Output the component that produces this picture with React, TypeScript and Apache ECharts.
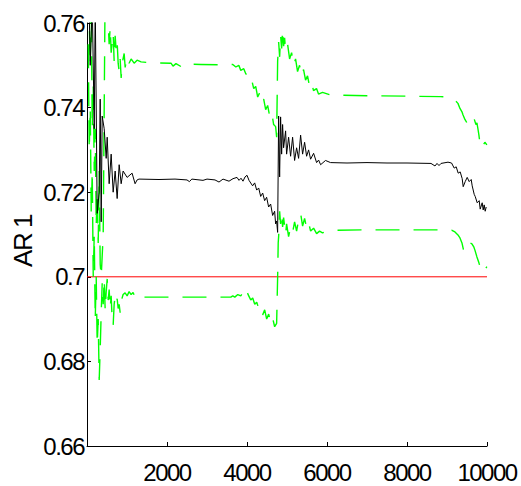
import React, { useEffect, useRef } from "react";
import * as echarts from "echarts";

// Tick labels
const xTicks = [2000, 4000, 6000, 8000, 10000];
const yTicks = [0.66, 0.68, 0.7, 0.72, 0.74, 0.76];
const yLabel = "AR 1";

// Reference line
const refX = [0, 10000];
const refY = [0.7, 0.7];

// Posterior mean (black)
const meanPts: [number, number][] = [
  [31, 0.775], [81, 0.75], [131, 0.765], [181, 0.735], [206, 0.765], [255, 0.715], [305, 0.72], [330, 0.742],
  [355, 0.713], [380, 0.738], [430, 0.735], [480, 0.728], [505, 0.733], [554, 0.722], [604, 0.729], [654, 0.72],
  [704, 0.725], [754, 0.7185], [804, 0.7265], [854, 0.722], [903, 0.725], [1003, 0.7235], [1127, 0.7245], [1202, 0.722],
  [1252, 0.7229], [1300, 0.7231], [1800, 0.723], [2200, 0.7231], [2500, 0.7229], [2560, 0.7225], [2620, 0.7231],
  [2900, 0.7228], [3000, 0.7231], [3200, 0.7229], [3300, 0.7224], [3400, 0.7231], [3550, 0.7226], [3650, 0.7232],
  [3750, 0.7235], [3800, 0.7228], [3850, 0.7233], [3900, 0.7226], [3950, 0.7236], [4000, 0.724], [4050, 0.7228],
  [4140, 0.7215], [4192, 0.7222], [4242, 0.7205], [4292, 0.721], [4342, 0.719], [4392, 0.7198], [4441, 0.718],
  [4491, 0.7188], [4541, 0.7165], [4591, 0.7172], [4641, 0.7145], [4691, 0.7155], [4716, 0.7125], [4741, 0.7132],
  [4766, 0.7105], [4791, 0.738], [4816, 0.7236], [4840, 0.7378], [4866, 0.729], [4890, 0.736], [4915, 0.7305],
  [4965, 0.7345], [4990, 0.729], [5040, 0.733], [5090, 0.7285], [5140, 0.733], [5190, 0.7275], [5240, 0.7305],
  [5290, 0.728], [5340, 0.7335], [5390, 0.729], [5440, 0.7318], [5490, 0.7285], [5540, 0.73], [5590, 0.7278],
  [5665, 0.7292], [5740, 0.727], [5790, 0.7276], [5840, 0.7265], [5963, 0.7275], [6088, 0.727], [6500, 0.7269],
  [7000, 0.727], [7500, 0.7269], [8000, 0.7269], [8600, 0.7268], [8700, 0.7262], [8750, 0.7268], [8800, 0.7263],
  [8850, 0.7268], [9025, 0.7271], [9114, 0.7269], [9180, 0.7257], [9230, 0.726], [9280, 0.7245], [9330, 0.7248],
  [9380, 0.7232], [9405, 0.7213], [9455, 0.7225], [9505, 0.7235], [9555, 0.7225], [9605, 0.723], [9630, 0.7215],
  [9680, 0.7195], [9705, 0.719], [9755, 0.7175], [9805, 0.718], [9830, 0.716], [9880, 0.7175], [9905, 0.7158],
  [9930, 0.717], [9955, 0.7155], [9980, 0.7165],
];

// Upper bound (green dashed)
const upperPts: [number, number][] = [
  [31, 0.785], [56, 0.76], [81, 0.75], [106, 0.765], [131, 0.735], [156, 0.745], [181, 0.725], [206, 0.735],
  [230, 0.712], [255, 0.72], [280, 0.708], [305, 0.725], [330, 0.703], [355, 0.7], [405, 0.71], [455, 0.77],
  [530, 0.76], [554, 0.755], [580, 0.759], [604, 0.753], [654, 0.7575], [679, 0.751], [704, 0.757], [729, 0.7535],
  [754, 0.7555], [779, 0.7505], [804, 0.7485], [829, 0.7515], [854, 0.747], [879, 0.7505], [929, 0.7528],
  [954, 0.7495], [1003, 0.752], [1053, 0.7505], [1103, 0.7515], [1178, 0.7505], [1252, 0.7512], [1352, 0.7508],
  [1601, 0.7506], [2100, 0.7505], [2150, 0.7498], [2225, 0.7504], [2350, 0.7497], [2400, 0.7503], [2847, 0.7502],
  [3345, 0.7501], [3645, 0.7502], [3720, 0.7496], [3795, 0.75], [3844, 0.7488], [3919, 0.7492], [3969, 0.748],
  [4019, 0.7475], [4068, 0.746], [4118, 0.7465], [4168, 0.7445], [4218, 0.745], [4267, 0.7425], [4317, 0.7435],
  [4367, 0.7412], [4417, 0.742], [4467, 0.7395], [4516, 0.7405], [4566, 0.738], [4616, 0.739], [4666, 0.736],
  [4716, 0.7355], [4741, 0.733], [4766, 0.751], [4791, 0.7555], [4816, 0.752], [4840, 0.757], [4866, 0.754],
  [4890, 0.7585], [4915, 0.7545], [4940, 0.7565], [4965, 0.7535], [5015, 0.755], [5065, 0.7515], [5115, 0.753],
  [5165, 0.75], [5214, 0.7515], [5264, 0.7485], [5314, 0.75], [5364, 0.7475], [5414, 0.749], [5464, 0.7465],
  [5513, 0.7475], [5563, 0.745], [5613, 0.746], [5663, 0.744], [5738, 0.7445], [5788, 0.7432], [5888, 0.7436],
  [6088, 0.743], [7000, 0.7428], [8000, 0.7427], [8838, 0.7426], [8999, 0.7425], [9149, 0.7422], [9224, 0.7415],
  [9274, 0.741], [9324, 0.7398], [9374, 0.739], [9399, 0.7383], [9448, 0.7372], [9498, 0.7364], [9548, 0.7376],
  [9573, 0.7378], [9623, 0.7372], [9673, 0.7375], [9723, 0.736], [9748, 0.7364], [9773, 0.735], [9798, 0.7335],
  [9823, 0.7316], [9872, 0.7322], [9897, 0.731], [9947, 0.7318], [9997, 0.7312],
];

// Lower bound (green dashed)
const lowerPts: [number, number][] = [
  [31, 0.755], [56, 0.73], [81, 0.74], [106, 0.715], [131, 0.725], [156, 0.7], [181, 0.71], [206, 0.69],
  [230, 0.7], [255, 0.684], [280, 0.69], [305, 0.6756], [330, 0.683], [355, 0.6915], [380, 0.6985], [405, 0.6935],
  [430, 0.6995], [455, 0.692], [480, 0.6965], [505, 0.6995], [530, 0.6945], [554, 0.697], [580, 0.6925],
  [604, 0.6955], [629, 0.69], [654, 0.6885], [679, 0.6935], [704, 0.6955], [729, 0.694], [754, 0.6948],
  [779, 0.6925], [804, 0.6935], [829, 0.6915], [854, 0.6942], [903, 0.6958], [953, 0.6962], [1003, 0.6955],
  [1053, 0.6965], [1103, 0.6958], [1152, 0.6963], [1202, 0.6952], [1252, 0.6958], [1352, 0.6952], [2500, 0.6952],
  [3595, 0.6952], [3645, 0.6955], [3695, 0.6952], [3770, 0.6958], [3844, 0.6955], [3894, 0.6962], [3944, 0.6952],
  [3994, 0.6965], [4044, 0.6955], [4094, 0.6945], [4143, 0.695], [4193, 0.6935], [4243, 0.694], [4293, 0.6925],
  [4343, 0.693], [4392, 0.691], [4442, 0.6922], [4492, 0.69], [4542, 0.6912], [4592, 0.689], [4641, 0.6902],
  [4691, 0.6882], [4741, 0.689], [4766, 0.7], [4780, 0.708], [4791, 0.7095], [4816, 0.7155], [4840, 0.7125],
  [4866, 0.715], [4890, 0.7118], [4915, 0.714], [4965, 0.71], [4990, 0.7125], [5040, 0.7095], [5090, 0.7118],
  [5140, 0.7105], [5190, 0.713], [5240, 0.7108], [5290, 0.7135], [5340, 0.715], [5390, 0.712], [5440, 0.7138],
  [5490, 0.7115], [5540, 0.7128], [5590, 0.7108], [5665, 0.7115], [5740, 0.7102], [5814, 0.7108], [5888, 0.7104],
  [6088, 0.711], [7000, 0.7111], [8000, 0.7111], [8838, 0.7111], [9124, 0.711], [9199, 0.7106], [9274, 0.7099],
  [9324, 0.7092], [9374, 0.708], [9423, 0.7059], [9473, 0.707], [9523, 0.7078], [9573, 0.708], [9623, 0.7078],
  [9673, 0.707], [9698, 0.7063], [9748, 0.7047], [9798, 0.7033], [9847, 0.7017], [9897, 0.7024], [9947, 0.7017],
  [9997, 0.7024],
];

const FONT = "'Liberation Sans', Arial, Helvetica, sans-serif";

export default function App() {
  const ref = useRef<HTMLDivElement>(null);
  useEffect(() => {
    if (!ref.current) return;
    const chart = echarts.init(ref.current, undefined, { renderer: "svg" });
    const dash = { type: [24, 14] as any };
    chart.setOption({
      animation: false,
      backgroundColor: "#ffffff",
      grid: {
        left: 87,
        right: 34,
        top: 23,
        bottom: 40,
        containLabel: false,
        outerBoundsMode: "none",
      },
      xAxis: {
        type: "value",
        min: 0,
        max: 10000,
        interval: 2000,
        axisLine: { show: true, lineStyle: { color: "#000", width: 1 } },
        axisTick: { show: true, inside: true, length: 4, lineStyle: { color: "#000" } },
        splitLine: { show: false },
        axisLabel: {
          color: "#000",
          fontFamily: FONT,
          fontSize: 24,
          margin: 14,
          hideOverlap: false,
          formatter: (v: number) => (xTicks.includes(v) ? String(v) : ""),
        },
      },
      yAxis: {
        type: "value",
        min: 0.66,
        max: 0.76,
        interval: 0.02,
        axisLine: { show: true, lineStyle: { color: "#000", width: 1 } },
        axisTick: { show: true, inside: true, length: 4, lineStyle: { color: "#000" } },
        splitLine: { show: false },
        axisLabel: {
          color: "#000",
          fontFamily: FONT,
          fontSize: 24,
          margin: 3,
          formatter: (v: number) => {
            const r = Math.round(v * 100) / 100;
            return yTicks.some((t) => Math.abs(t - r) < 1e-9) ? String(r) : "";
          },
        },
      },
      graphic: [
        {
          type: "text",
          x: 23,
          y: 241,
          rotation: Math.PI / 2,
          style: {
            text: yLabel,
            fontFamily: FONT,
            fontSize: 26,
            fill: "#000",
            align: "center",
            verticalAlign: "middle",
          },
        },
      ],
      series: [
        {
          type: "line",
          data: refX.map((x, i) => [x, refY[i]]),
          showSymbol: false,
          lineStyle: { color: "#ff0000", width: 1 },
          silent: true,
          z: 1,
        },
        {
          type: "line",
          data: upperPts,
          showSymbol: false,
          lineStyle: { color: "#00ff00", width: 1.4, ...dash },
          silent: true,
          z: 2,
        },
        {
          type: "line",
          data: lowerPts,
          showSymbol: false,
          lineStyle: { color: "#00ff00", width: 1.4, ...dash },
          silent: true,
          z: 2,
        },
        {
          type: "line",
          data: meanPts,
          showSymbol: false,
          lineStyle: { color: "#000000", width: 1 },
          silent: true,
          z: 3,
        },
      ],
    });
    return () => chart.dispose();
  }, []);
  return (
    <>
      <style>{".ec-wrap svg text{letter-spacing:-1.5px}"}</style>
      <div
        ref={ref}
        className="ec-wrap"
        style={{ position: "fixed", left: 0, top: 0, width: 521, height: 486, background: "#fff" }}
      />
    </>
  );
}
